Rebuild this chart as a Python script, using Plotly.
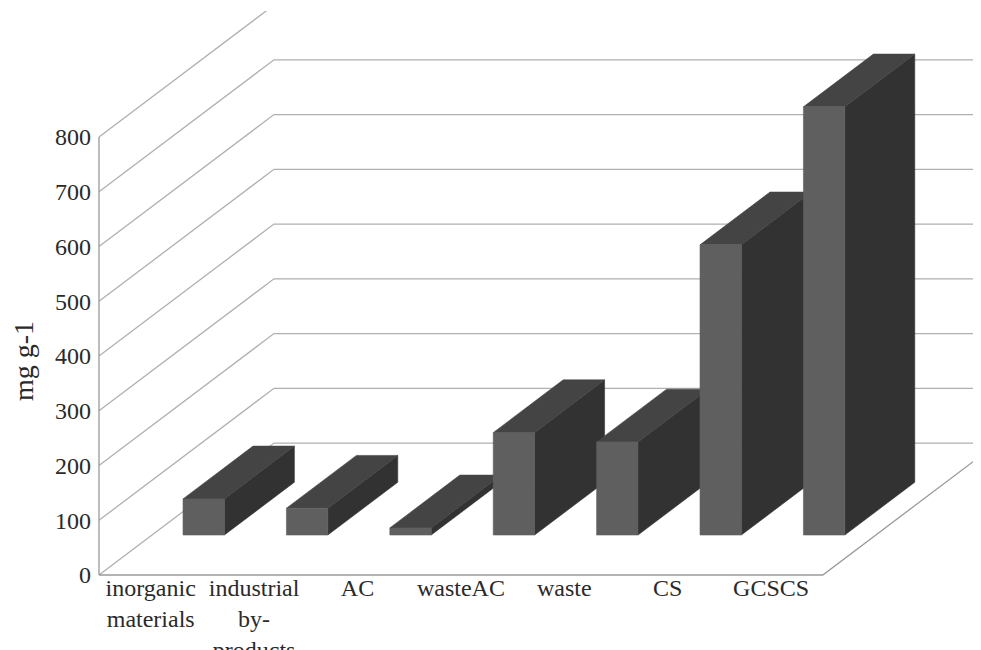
import plotly.graph_objects as go

# ---- data ----
categories = ["inorganic materials", "industrial by-products", "AC", "wasteAC", "waste", "CS", "GCSCS"]
tick_text = ["inorganic<br>materials", "industrial<br>by-<br>products", "AC", "wasteAC", "waste", "CS", "GCSCS"]
values = [66, 49, 13, 187, 170, 530, 782]
y_ticks = [0, 100, 200, 300, 400, 500, 600, 700, 800]
y_title = "mg g-1"

# ---- oblique 3D projection parameters (in axis units) ----
DX = 1.692      # horizontal shift of the back wall (category units)
DY = 241.0      # vertical shift of the back wall (value units)
F0, F1 = 0.303, 0.703   # bar front / back depth fractions
HW = 0.2                # half bar width (category units)

FRONT_C = "#5f5f5f"
SIDE_C = "#323232"
TOP_C = "#444444"
GRID_C = "#b0b0b0"
AXIS_C = "#9a9a9a"
TEXT_C = "#2a2a2a"
FONT = "Liberation Serif"


def proj(x, y, d):
    return x + d * DX, y + d * DY


fig = go.Figure()

def poly(pts, color):
    xs = [p[0] for p in pts] + [pts[0][0]]
    ys = [p[1] for p in pts] + [pts[0][1]]
    fig.add_trace(go.Scatter(x=xs, y=ys, mode="lines", fill="toself",
                             fillcolor=color, line=dict(color=color, width=0.6),
                             hoverinfo="skip", showlegend=False))

def line(pts, color, width):
    fig.add_trace(go.Scatter(x=[p[0] for p in pts], y=[p[1] for p in pts], mode="lines",
                             line=dict(color=color, width=width),
                             hoverinfo="skip", showlegend=False))

n = len(categories)
x_far = n + 3

# gridlines: left side wall diagonals + back wall horizontals
for v in y_ticks:
    p0 = proj(0, v, 0)
    p1 = proj(0, v, 1)
    line([p0, p1, (x_far, p1[1])], GRID_C, 1.3)

# axis frame
line([proj(0, 0, 0), proj(0, y_ticks[-1], 0)], AXIS_C, 1.3)
line([proj(0, 0, 0), proj(n, 0, 0), proj(n, 0, 1)], AXIS_C, 1.3)

# bars (left to right so right bars overlap left bars' side faces)
for i, v in enumerate(values):
    c = i + 0.5
    xl, xr = c - HW, c + HW
    poly([proj(xr, 0, F0), proj(xr, 0, F1), proj(xr, v, F1), proj(xr, v, F0)], SIDE_C)
    poly([proj(xl, v, F0), proj(xr, v, F0), proj(xr, v, F1), proj(xl, v, F1)], TOP_C)
    poly([proj(xl, 0, F0), proj(xr, 0, F0), proj(xr, v, F0), proj(xl, v, F0)], FRONT_C)

# page body has an 8px margin: lay out in figure pixels = window pixels - 8
OFF = 8
PX_CAT = 103.4
PX_VAL = 0.5475
W, H = 981, 650
AX_X = 99 - OFF          # pixel of category 0 / value axis
ZERO_Y = 575 - OFF       # pixel of value 0
ML, MR = AX_X - 4, 0
MT = 11 - OFF
MB = H - (ZERO_Y + 5)
x0 = -(AX_X - ML) / PX_CAT
x1 = x0 + (W - ML - MR) / PX_CAT
y0 = -((H - MB) - ZERO_Y) / PX_VAL
y1 = y0 + (H - MB - MT) / PX_VAL

fig.update_layout(
    width=W, height=H,
    margin=dict(l=ML, r=MR, t=MT, b=MB, autoexpand=False),
    paper_bgcolor="white", plot_bgcolor="white",
    font=dict(family=FONT, color=TEXT_C),
    xaxis=dict(range=[x0, x1], showgrid=False, zeroline=False, showline=False,
               automargin=False,
               tickmode="array", tickvals=[i + 0.5 for i in range(n)], ticktext=tick_text,
               tickfont=dict(family=FONT, size=24, color=TEXT_C), ticks="",
               ticklabelstandoff=-9),
    yaxis=dict(range=[y0, y1], showgrid=False, zeroline=False, showline=False,
               automargin=False,
               tickmode="array", tickvals=y_ticks, ticktext=[str(t) for t in y_ticks],
               tickfont=dict(family=FONT, size=24, color=TEXT_C), ticks="",
               ticklabelstandoff=3),
    annotations=[dict(text=y_title, textangle=-90, xref="paper", yref="paper",
                      x=(23 - OFF - ML) / (W - ML - MR), y=(H - MB - (361 - OFF)) / (H - MB - MT),
                      xanchor="center", yanchor="middle", showarrow=False,
                      font=dict(family=FONT, size=28, color=TEXT_C))],
    showlegend=False,
)

fig.write_html("out.html")
